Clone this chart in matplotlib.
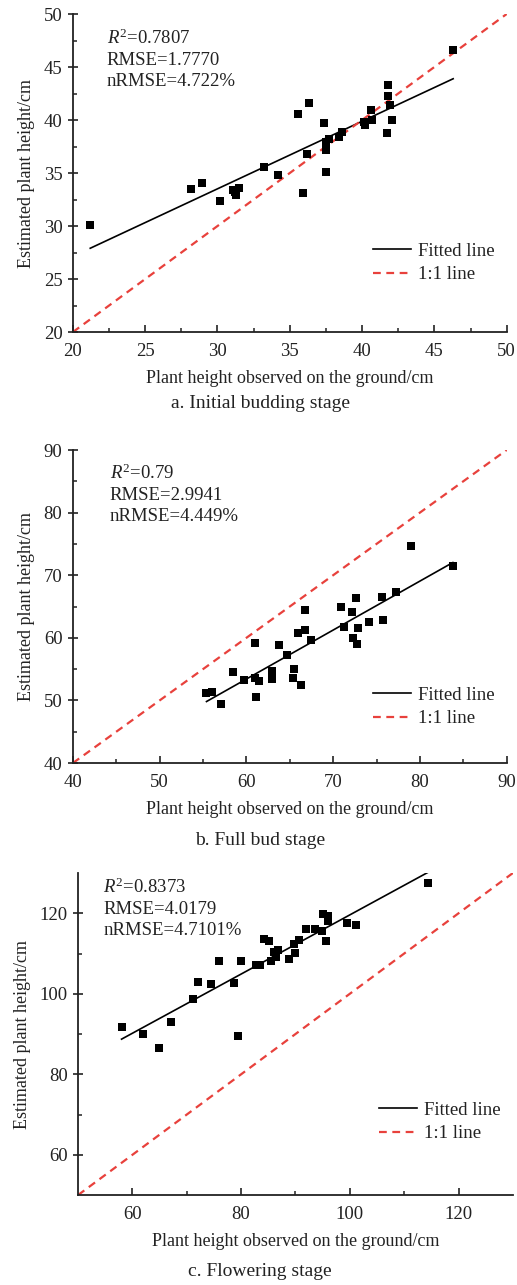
import numpy as np
import matplotlib
matplotlib.use("Agg")
from matplotlib import pyplot as plt
from matplotlib.ticker import MultipleLocator

plt.rcParams['font.family'] = ['Liberation Serif', 'DejaVu Serif']
plt.rcParams['mathtext.fontset'] = 'custom'
plt.rcParams['mathtext.rm'] = 'Liberation Serif'
plt.rcParams['mathtext.it'] = 'Liberation Serif:italic'
plt.rcParams['text.color'] = '#222222'
plt.rcParams['axes.labelcolor'] = '#222222'
plt.rcParams['xtick.color'] = '#222222'
plt.rcParams['ytick.color'] = '#222222'

# a. initial budding stage
obs_a = [46.3, 41.8, 41.8, 41.9, 42.1, 41.7, 40.6, 40.7, 40.2, 40.1, 38.6, 38.4,
         37.7, 37.5, 37.4, 37.5, 37.5, 36.3, 35.6, 36.2, 35.9, 34.2, 33.2, 28.2,
         28.9, 30.2, 31.1, 31.5, 31.3, 31.2, 21.2]
est_a = [46.6, 43.3, 42.3, 41.4, 40.0, 38.8, 40.9, 40.0, 39.5, 39.8, 38.9, 38.4,
         38.2, 37.9, 39.7, 37.2, 35.1, 41.6, 40.6, 36.8, 33.1, 34.8, 35.6, 33.5,
         34.1, 32.4, 33.4, 33.6, 32.9, 33.2, 30.1]
fit_a = [0.637, 14.4]
stats_a = ["0.7807", "1.7770", "4.722%"]

# b. full bud stage
obs_b = [79.0, 83.8, 77.3, 75.6, 72.6, 70.9, 72.2, 66.7, 75.8, 74.1, 71.3, 72.9,
         72.3, 72.8, 66.7, 66.0, 67.5, 61.0, 63.8, 64.7, 58.5, 62.9, 65.5, 59.7,
         61.0, 61.5, 63.0, 65.4, 66.3, 55.4, 56.0, 61.1, 57.1]
est_b = [74.7, 71.4, 67.3, 66.6, 66.4, 65.0, 64.2, 64.5, 62.9, 62.6, 61.7, 61.6,
         59.9, 59.0, 61.2, 60.7, 59.6, 59.1, 58.8, 57.2, 54.5, 54.7, 55.0, 53.2,
         53.6, 53.1, 53.4, 53.6, 52.5, 51.2, 51.4, 50.5, 49.4]
fit_b = [0.782, 6.5]
stats_b = ["0.79", "2.9941", "4.449%"]

# c. flowering stage
obs_c = [114.3, 95.0, 95.9, 95.9, 99.5, 101.1, 91.9, 93.6, 94.9, 95.7, 84.2, 85.2,
         90.7, 89.8, 86.8, 86.1, 89.9, 86.5, 85.5, 88.8, 83.4, 82.8, 75.9, 80.0,
         72.1, 74.5, 78.6, 71.2, 67.1, 58.0, 62.0, 79.5, 64.9]
est_c = [127.6, 119.8, 119.3, 118.0, 117.7, 117.1, 116.0, 116.0, 115.7, 113.2, 113.6, 113.2,
         113.4, 112.4, 110.8, 110.5, 110.1, 109.1, 108.2, 108.6, 107.2, 107.1, 108.2, 108.2,
         103.0, 102.5, 102.7, 98.6, 93.1, 91.8, 90.0, 89.4, 86.5]
fit_c = [0.735, 46.1]
stats_c = ["0.8373", "4.0179", "4.7101%"]

captions = ["a. Initial budding stage", "b. Full bud stage", "c. Flowering stage"]

panels = [
    dict(obs=obs_a, est=est_a, fit=fit_a, stats=stats_a, lim=(20, 50), major=5, minor=2.5,
         rect=[0.141, 0.7416, 0.839, 0.2475], txt=(0.078, 0.955), leg=0.13, cap=0.679),
    dict(obs=obs_b, est=est_b, fit=fit_b, stats=stats_b, lim=(40, 90), major=10, minor=5,
         rect=[0.141, 0.4062, 0.839, 0.2436], txt=(0.085, 0.955), leg=0.09, cap=0.339),
    dict(obs=obs_c, est=est_c, fit=fit_c, stats=stats_c, lim=(50, 130), major=20, minor=10,
         rect=[0.151, 0.070, 0.841, 0.2506], txt=(0.058, 0.985), leg=0.14, cap=0.004),
]

fig = plt.figure(figsize=(5.17, 12.85), dpi=100)

for p, cap in zip(panels, captions):
    ax = fig.add_axes(p['rect'])
    lo, hi = p['lim']
    obs = np.array(p['obs'])
    est = np.array(p['est'])
    ax.scatter(obs, est, marker='s', s=34, color='black', zorder=3, linewidths=0)
    xf = np.array([obs.min(), obs.max()])
    ax.plot(xf, p['fit'][0] * xf + p['fit'][1], color='black', lw=1.2, label='Fitted line', zorder=2)
    ax.plot([lo, hi], [lo, hi], color='#e8413c', lw=1.6, ls=(0, (3.5, 2.5)), label='1:1 line', zorder=2)
    ax.set_xlim(lo, hi)
    ax.set_ylim(lo, hi)
    if lo == 50:
        ax.set_xticks([60, 80, 100, 120])
        ax.set_yticks([60, 80, 100, 120])
        ax.set_xticks([70, 90, 110], minor=True)
        ax.set_yticks([70, 90, 110], minor=True)
    else:
        ax.xaxis.set_major_locator(MultipleLocator(p['major']))
        ax.yaxis.set_major_locator(MultipleLocator(p['major']))
        ax.xaxis.set_minor_locator(MultipleLocator(p['minor']))
        ax.yaxis.set_minor_locator(MultipleLocator(p['minor']))
    for s in ['top', 'right']:
        ax.spines[s].set_visible(False)
    for s in ['left', 'bottom']:
        ax.spines[s].set_linewidth(1.3)
        ax.spines[s].set_color('#222222')
    ax.tick_params(axis='x', which='major', direction='in', length=5, width=1.2, labelsize=13.5, pad=8)
    ax.tick_params(axis='y', which='major', direction='inout', length=7, width=1.2, labelsize=13.5, pad=4)
    ax.tick_params(which='minor', direction='in', length=3, width=1.1)
    ax.set_xlabel('Plant height observed on the ground/cm', fontsize=13, labelpad=7)
    ax.set_ylabel('Estimated plant height/cm', fontsize=13, labelpad=6)
    r2, rmse, nrmse = p['stats']
    ax.text(p['txt'][0], p['txt'][1],
            '$R^2$=' + r2 + '\nRMSE=' + rmse + '\nnRMSE=' + nrmse,
            transform=ax.transAxes, ha='left', va='top', fontsize=13.5, linespacing=1.3)
    ax.legend(loc='lower right', bbox_to_anchor=(0.99, p['leg']), frameon=False, fontsize=13.5,
              handlelength=2.0, handletextpad=0.4, labelspacing=0.35, borderaxespad=0)
    fig.text(0.503, p['cap'], cap, ha='center', va='bottom', fontsize=14)

fig.savefig('out.png', dpi=100)
